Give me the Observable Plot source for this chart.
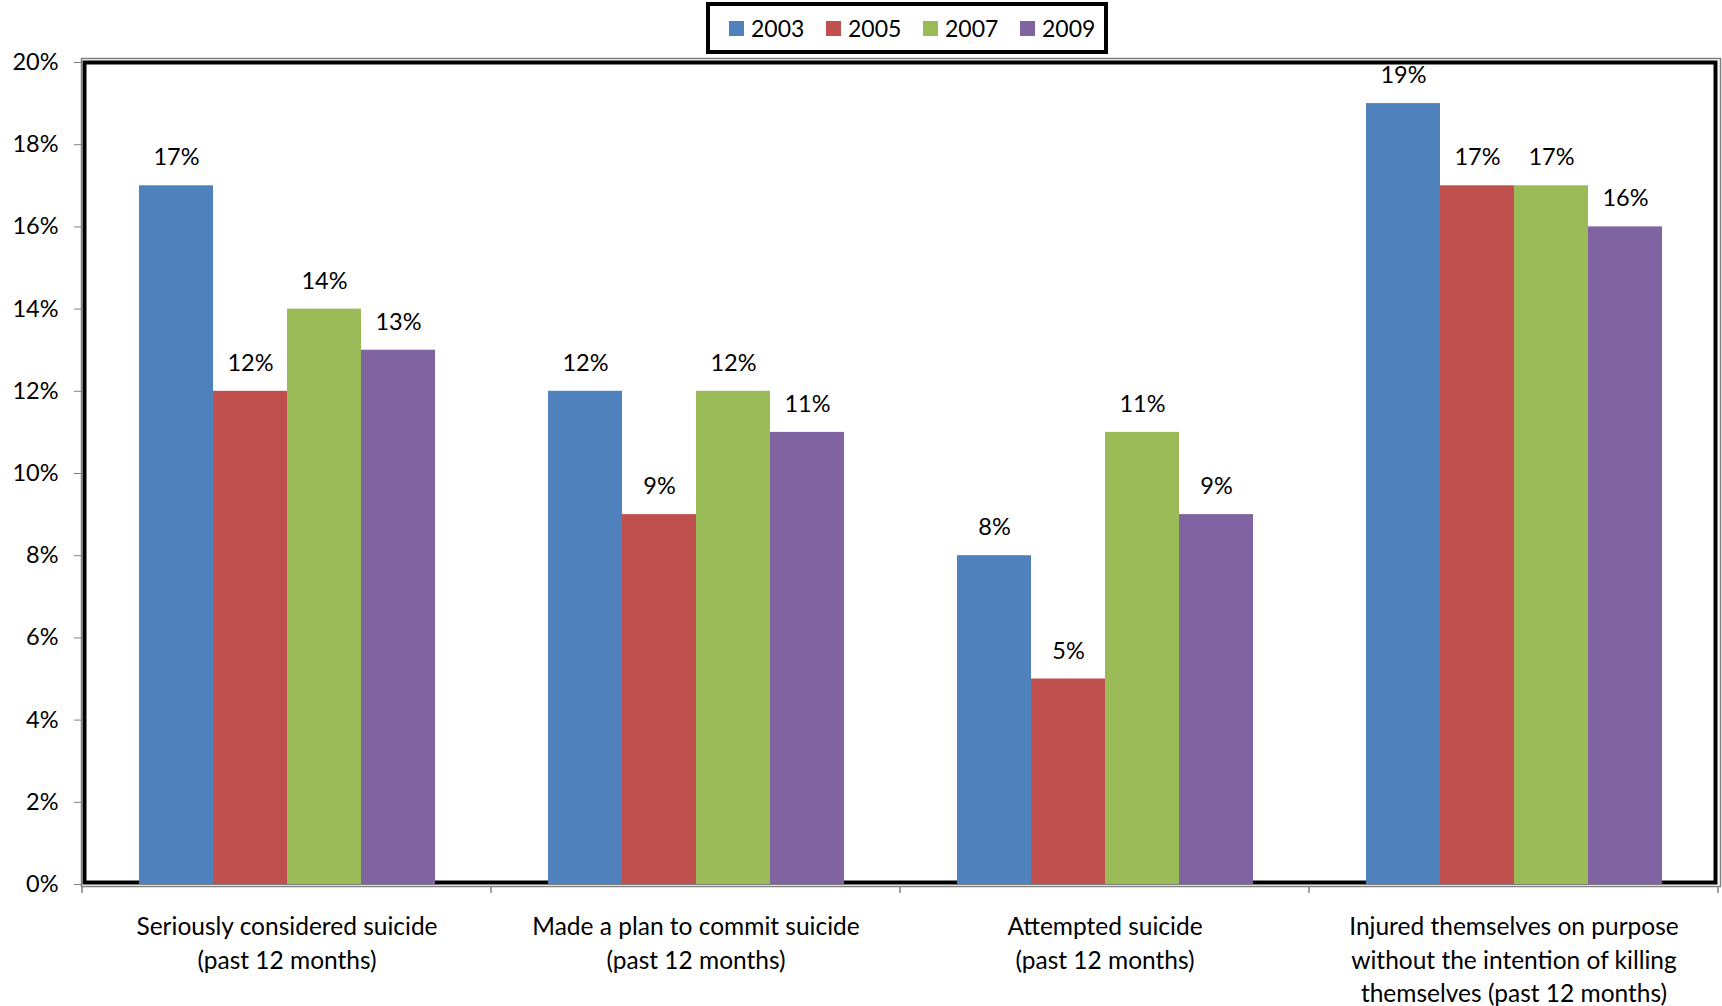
<!DOCTYPE html>
<html>
<head>
<meta charset="utf-8">
<script src="https://cdn.jsdelivr.net/npm/d3@7"></script>
<script src="https://cdn.jsdelivr.net/npm/@observablehq/plot@0.6"></script>
<style>
  html, body { margin: 0; padding: 0; background: #fff; }
  body { width: 1722px; height: 1006px; position: relative; overflow: hidden; font-family: Lato, "Open Sans", sans-serif; }
  #legend { position: absolute; z-index: 2; background: #fff; left: 706px; top: 2px; display: flex; align-items: center; justify-content: flex-start; padding-left: 19px; box-sizing: border-box; height: 52px; width: 402px; border: 4px solid #000; }
  #legend .item { display: flex; align-items: center; font-size: 23px; color: #000; width: 97px; flex: none; }
  #legend .sw { width: 15px; height: 15px; margin-right: 7px; }
  #chart { position: absolute; left: 0; top: 0; z-index: 1; }
</style>
</head>
<body>
<div id="chart"></div>
<div id="legend"></div>
<script>
const categories = [
  "Seriously considered suicide\n(past 12 months)",
  "Made a plan to commit suicide\n(past 12 months)",
  "Attempted suicide\n(past 12 months)",
  "Injured themselves on purpose\nwithout the intention of killing\nthemselves (past 12 months)"
];
const years = ["2003", "2005", "2007", "2009"];
const values2003 = [17, 12, 8, 19];
const values2005 = [12, 9, 5, 17];
const values2007 = [14, 12, 11, 17];
const values2009 = [13, 11, 9, 16];
const colors = ["#4F81BD", "#C0504D", "#9BBB59", "#8064A2"];
const yTicks = [0, 2, 4, 6, 8, 10, 12, 14, 16, 18, 20];

const series = [values2003, values2005, values2007, values2009];
const data = categories.flatMap((cat, i) => years.map((year, j) => ({cat, year, value: series[j][i]})));

// legend
const legend = d3.select("#legend");
years.forEach((y, j) => {
  const it = legend.append("div").attr("class", "item");
  it.append("div").attr("class", "sw").style("background", colors[j]);
  it.append("span").text(y);
});

const chart = Plot.plot({
  width: 1722,
  height: 1006,
  marginLeft: 82,
  marginRight: 4,
  marginTop: 62,
  marginBottom: 122,
  style: {fontFamily: "Lato, 'Open Sans', sans-serif", fontSize: "24px", color: "#000", background: "transparent"},
  fx: {domain: categories, padding: 0, axis: null},
  x: {domain: years, axis: null, paddingInner: 0, paddingOuter: 0.745},
  y: {domain: [0, 20], axis: null},
  color: {domain: years, range: colors},
  marks: [
    Plot.barY(data, {fx: "cat", x: "year", y: "value", fill: "year"}),
    Plot.text(data, {fx: "cat", x: "year", y: "value", text: d => d.value + "%", dy: -28, fontSize: 23.5, fill: "#000"}),
    Plot.axisY({ticks: yTicks, tickFormat: d => d + "%", tickSize: 8, tickPadding: 16, stroke: "#808080", fill: "#000", fontSize: 23.5, label: null}),
    Plot.axisFx({anchor: "bottom", tickSize: 0, tickPadding: 27, lineHeight: 1.37, fontSize: 24.5, fill: "#000", label: null})
  ]
});
document.getElementById("chart").appendChild(chart);

// frame and category boundary ticks
(function () {
  const svg = d3.select(chart);
  const fx = chart.scale("fx");
  const ys = chart.scale("y");
  const yTop = ys.apply(20), yBottom = ys.apply(0);
  const xLeft = fx.range[0], xRight = fx.range[1];
  const under = svg.insert("g", "g");
  under.append("rect")
    .attr("x", xLeft + 2.5).attr("y", yTop + 0.5)
    .attr("width", xRight - xLeft - 5).attr("height", yBottom - yTop - 2)
    .attr("fill", "none").attr("stroke", "#000").attr("stroke-width", 4);
  const over = svg.append("g").attr("stroke", "#808080").attr("stroke-width", 1.5).attr("fill", "none");
  over.append("rect")
    .attr("x", xLeft - 0.5).attr("y", yTop - 3.5)
    .attr("width", xRight - xLeft + 3).attr("height", yBottom - yTop + 6);
  const bounds = categories.map(c => fx.apply(c)).concat([xRight]);
  bounds.forEach(b => {
    over.append("line").attr("x1", b).attr("x2", b).attr("y1", yBottom + 2.5).attr("y2", yBottom + 9);
  });
})();
</script>
</body>
</html>
